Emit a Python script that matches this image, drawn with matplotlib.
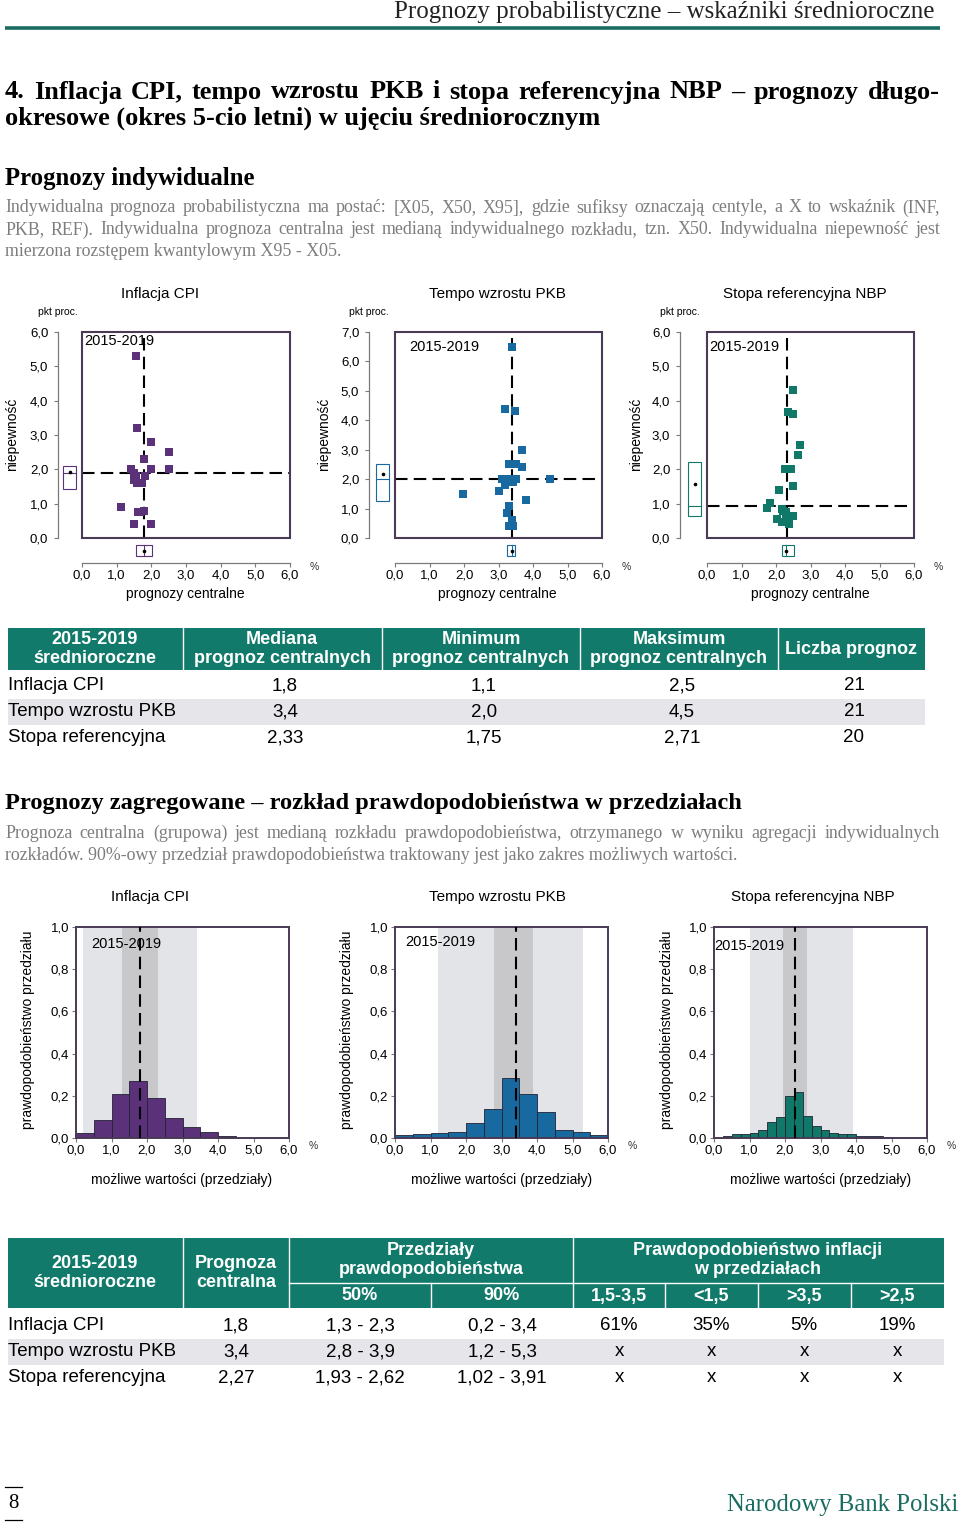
import matplotlib
matplotlib.use('Agg')
import matplotlib.pyplot as plt
from matplotlib.patches import Rectangle
from matplotlib.ticker import FuncFormatter
from matplotlib import font_manager

W, H = 960, 1522
SERIF = 'Liberation Serif'
SANS = 'Liberation Sans'
_names = {f.name for f in font_manager.fontManager.ttflist}
NARROW = 'Liberation Sans Narrow' if 'Liberation Sans Narrow' in _names else SANS

TEAL = '#117a6a'
TEAL_DARK = '#1b6c60'
FRAME = '#4a3a55'
AXIS = '#7a7a7a'
LIGHT = '#e3e4e8'
DARK = '#c8c8ca'
ROWGRAY = '#e6e6ea'
C_CPI = '#5b317a'
C_PKB = '#1769a0'
C_REF = '#107869'

# ---- prognozy indywidualne: (prognoza centralna, niepewność)
cpi_x = [1.56, 1.60, 2.00, 2.51, 1.80, 1.41, 2.00, 2.50, 1.50, 1.82, 1.50,
         1.60, 1.72, 1.12, 1.61, 1.80, 1.50, 2.00, 1.55, 1.66, 1.70]
cpi_y = [5.30, 3.21, 2.80, 2.50, 2.30, 2.00, 2.00, 2.00, 1.90, 1.80, 1.70,
         1.60, 1.60, 0.90, 0.75, 0.80, 0.40, 0.40, 1.80, 0.75, 1.60]
pkb_x = [3.39, 3.18, 3.49, 3.69, 3.29, 3.50, 3.69, 3.09, 3.31, 3.50, 3.41,
         3.20, 3.00, 4.48, 1.98, 3.80, 3.29, 3.24, 3.39, 3.29, 3.41]
pkb_y = [6.49, 4.40, 4.31, 3.00, 2.50, 2.50, 2.42, 2.00, 2.00, 2.00, 1.90,
         1.80, 1.61, 2.00, 1.51, 1.30, 1.09, 0.85, 0.62, 0.42, 0.42]
ref_x = [2.49, 2.34, 2.50, 2.70, 2.63, 2.25, 2.44, 2.49, 2.09, 1.83,
         1.74, 2.17, 2.28, 2.03, 2.17, 2.28, 2.48, 2.39, 2.35, 2.20]
ref_y = [4.31, 3.66, 3.61, 2.70, 2.41, 2.00, 2.00, 1.50, 1.40, 1.02,
         0.86, 0.84, 0.75, 0.55, 0.47, 0.55, 0.65, 0.40, 0.60, 0.80]
# mediany (linie przerywane)
cpi_med = (1.8, 1.9)
pkb_med = (3.4, 2.0)
ref_med = (2.33, 0.93)
# pudełka brzegowe: niepewność (dół, mediana, góra, punkt), centralne (dół, mediana, góra)
cpi_ubox = (1.43, 1.90, 2.10, 1.92)
pkb_ubox = (1.25, 2.00, 2.50, 2.17)
ref_ubox = (0.65, 0.93, 2.21, 1.58)
cpi_cbox = (1.56, 1.80, 2.02)
pkb_cbox = (3.24, 3.39, 3.48)
ref_cbox = (2.18, 2.30, 2.51)

# ---- prognozy zagregowane: lewe krawędzie przedziałów i prawdopodobieństwa
cpi_bins = [0.0, 0.5, 1.0, 1.5, 2.0, 2.5, 3.0, 3.5, 4.0, 4.5, 5.0, 5.5]
cpi_prob = [0.025, 0.084, 0.21, 0.27, 0.19, 0.096, 0.05, 0.03, 0.011, 0.002, 0.0, 0.0]
pkb_bins = [0.0, 0.5, 1.0, 1.5, 2.0, 2.5, 3.0, 3.5, 4.0, 4.5, 5.0, 5.5]
pkb_prob = [0.016, 0.019, 0.024, 0.028, 0.073, 0.136, 0.284, 0.207, 0.125, 0.040, 0.028, 0.016]
ref_bins = [0.25, 0.5, 0.75, 1.0, 1.25, 1.5, 1.75, 2.0, 2.25, 2.5, 2.75, 3.0,
            3.25, 3.5, 3.75, 4.0, 4.25, 4.5, 4.75]
ref_prob = [0.009, 0.02, 0.02, 0.025, 0.04, 0.076, 0.10, 0.20, 0.218, 0.106,
            0.058, 0.039, 0.026, 0.02, 0.017, 0.011, 0.009, 0.008, 0.006]
cpi_band = ((0.2, 3.4), (1.3, 2.3), 1.8)
pkb_band = ((1.2, 5.3), (2.8, 3.9), 3.4)
ref_band = ((1.02, 3.91), (1.93, 2.62), 2.27)

# ---- tabele
t1_header = ['2015-2019\nśrednioroczne', 'Mediana\nprognoz centralnych',
             'Minimum\nprognoz centralnych', 'Maksimum\nprognoz centralnych',
             'Liczba prognoz']
t1_rows = [['Inflacja CPI', '1,8', '1,1', '2,5', '21'],
           ['Tempo wzrostu PKB', '3,4', '2,0', '4,5', '21'],
           ['Stopa referencyjna', '2,33', '1,75', '2,71', '20']]
t2_sub = ['50%', '90%', '1,5-3,5', '<1,5', '>3,5', '>2,5']
t2_rows = [['Inflacja CPI', '1,8', '1,3 - 2,3', '0,2 - 3,4', '61%', '35%', '5%', '19%'],
           ['Tempo wzrostu PKB', '3,4', '2,8 - 3,9', '1,2 - 5,3', 'x', 'x', 'x', 'x'],
           ['Stopa referencyjna', '2,27', '1,93 - 2,62', '1,02 - 3,91', 'x', 'x', 'x', 'x']]

comma = FuncFormatter(lambda v, _: f'{v:.1f}'.replace('.', ','))

fig = plt.figure(figsize=(W / 100, H / 100), dpi=100)
bg = fig.add_axes([0, 0, 1, 1])
bg.set_xlim(0, W)
bg.set_ylim(H, 0)
bg.axis('off')
bg.set_zorder(-5)


def line(s, x0, y, size, x1=None, **kw):
    kw = dict(dict(family=SERIF, va='center', fontsize=size), **kw)
    if x1 is None:
        return bg.text(x0, y, s, **kw)
    # wyjustowana linia: słowa rozstawione od x0 do x1
    words = s.split(' ')
    ts = [bg.text(x0, y, w, **kw) for w in words]
    r = fig.canvas.get_renderer()
    ws = [t.get_window_extent(r).width for t in ts]
    gap = (x1 - x0 - sum(ws)) / (len(ws) - 1)
    x = x0
    for t, w in zip(ts, ws):
        t.set_x(x)
        x += w + gap


def add_ax(x0, y0, x1, y1):
    return fig.add_axes([x0 / W, 1 - y1 / H, (x1 - x0) / W, (y1 - y0) / H])


# ---- nagłówek strony
line('Prognozy probabilistyczne – wskaźniki średnioroczne', 935, 12, 18,
     ha='right', color='#222222')
bg.plot([5, 940], [28, 28], color=TEAL_DARK, lw=2.6, solid_capstyle='butt')
line('4. Inflacja CPI, tempo wzrostu PKB i stopa referencyjna NBP – prognozy długo-',
     5, 92, 19, x1=940, weight='bold')
line('okresowe (okres 5-cio letni) w ujęciu średniorocznym', 5, 118, 19, weight='bold')
line('Prognozy indywidualne', 5, 178, 17.8, weight='bold')
GRAYTXT = '#7d7d7d'
PSIZE = 12.9
line('Indywidualna prognoza probabilistyczna ma postać: [X05, X50, X95], gdzie sufiksy '
     'oznaczają centyle, a X to wskaźnik (INF,', 5, 208, PSIZE, x1=940, color=GRAYTXT)
line('PKB, REF). Indywidualna prognoza centralna jest medianą indywidualnego rozkładu, '
     'tzn. X50. Indywidualna niepewność jest', 5, 230, PSIZE, x1=940, color=GRAYTXT)
line('mierzona rozstępem kwantylowym X95 - X05.', 5, 252, PSIZE, color=GRAYTXT)


def scatter_panel(box, spine_px, xs, ys, ymax, color, med, ubox, cbox, tx, ty_lab):
    x0, y0, x1, y1 = box
    wpx, hpx = x1 - x0, y1 - y0
    ax = add_ax(*box)
    ax.set_xlim(0, 6)
    ax.set_ylim(0, ymax)
    ax.patch.set_alpha(0)
    ax.axvline(med[0], color='black', lw=1.5, dashes=(6, 3), zorder=2)
    ax.axhline(med[1], color='black', lw=1.5, dashes=(6, 3), zorder=2)
    ax.scatter(xs, ys, marker='s', s=36, color=color, lw=0, zorder=3)
    ax.add_patch(Rectangle((0, 0), 1, 1, transform=ax.transAxes, fill=False,
                           ec=FRAME, lw=1.5, clip_on=False, zorder=4))
    for s in ['top', 'right']:
        ax.spines[s].set_visible(False)
    ax.spines['left'].set_position(('outward', spine_px * 0.72))
    ax.spines['bottom'].set_position(('outward', 25 * 0.72))
    for s in ['left', 'bottom']:
        ax.spines[s].set_color(AXIS)
        ax.spines[s].set_linewidth(0.9)
    ax.set_xticks(range(0, 7))
    ax.set_yticks(range(0, ymax + 1))
    ax.xaxis.set_major_formatter(comma)
    ax.yaxis.set_major_formatter(comma)
    ax.tick_params(labelsize=9.5, length=3, color=AXIS, pad=2)
    ax.tick_params(axis='y', pad=4)
    for lab in ax.get_xticklabels() + ax.get_yticklabels():
        lab.set_family(SANS)
    # pudełko niepewności (lewa strona)
    tyx = ax.get_yaxis_transform()
    lo, md, hi, pt = ubox
    ax.add_patch(Rectangle((-19 / wpx, lo), 13 / wpx, hi - lo, transform=tyx, fill=False,
                           ec=color, lw=0.8, clip_on=False))
    ax.plot([-19 / wpx, -6 / wpx], [md, md], transform=tyx, color=color, lw=0.8, clip_on=False)
    ax.plot([-12.5 / wpx], [pt], marker='o', ms=1.6, color='black', transform=tyx, clip_on=False)
    # pudełko prognoz centralnych (dół)
    txx = ax.get_xaxis_transform()
    lo, md, hi = cbox
    ax.add_patch(Rectangle((lo, -18 / hpx), hi - lo, 11 / hpx, transform=txx, fill=False,
                           ec=color, lw=0.8, clip_on=False))
    ax.plot([md, md], [-18 / hpx, -7 / hpx], transform=txx, color=color, lw=0.8, clip_on=False)
    ax.plot([md], [-12.5 / hpx], marker='o', ms=1.6, color='black', transform=txx, clip_on=False)
    ax.text(tx, ty_lab, '2015-2019', transform=ax.transAxes, family=SANS, fontsize=10.5,
            ha='left', va='center')
    ax.text(1 + 20 / wpx, -29 / hpx, '%', transform=ax.transAxes, family=SANS, fontsize=7.5,
            ha='left', va='center', color='#333333')
    ax.text(-spine_px / wpx, 1 + 20 / hpx, 'pkt proc.', transform=ax.transAxes, family=SANS,
            fontsize=7.5, ha='center', va='center')
    return ax


scatter_panel((82, 332, 290, 538), 24, cpi_x, cpi_y, 6, C_CPI, cpi_med, cpi_ubox, cpi_cbox,
              0.01, 0.955)
scatter_panel((395, 332, 602, 538), 26, pkb_x, pkb_y, 7, C_PKB, pkb_med, pkb_ubox, pkb_cbox,
              0.07, 0.925)
scatter_panel((707, 332, 914, 538), 27, ref_x, ref_y, 6, C_REF, ref_med, ref_ubox, ref_cbox,
              0.01, 0.925)

for x, t in [(160, 'Inflacja CPI'), (497, 'Tempo wzrostu PKB'), (805, 'Stopa referencyjna NBP')]:
    line(t, x, 294, 11, ha='center', family=SANS)
for x in [185, 497, 810]:
    line('prognozy centralne', x, 594, 10, ha='center', family=SANS)
for x in [12, 324, 636]:
    line('niepewność', x, 434, 10, ha='center', family=SANS, rotation=90)

# ---- tabela 1
bg.add_patch(Rectangle((8, 628), 917, 42, color=TEAL, lw=0))
for x in [183, 382, 580, 778]:
    bg.plot([x, x], [628, 670], color='white', lw=1)
t1_cx = [95, 282, 481, 679, 851]
for cx, h in zip(t1_cx, t1_header):
    line(h, cx, 649, 13, ha='center', family=NARROW, weight='bold', color='white',
         linespacing=1.15)
bg.add_patch(Rectangle((8, 699), 917, 26, color=ROWGRAY, lw=0))
for i, row in enumerate(t1_rows):
    y = 686 + 26 * i
    line(row[0], 8, y, 13.5, family=SANS)
    for cx, v in zip(t1_cx[1:], row[1:]):
        line(v, cx + 3, y, 13.5, ha='center', family=SANS)

# ---- prognozy zagregowane
line('Prognozy zagregowane – rozkład prawdopodobieństwa w przedziałach', 5, 803, 17.6,
     weight='bold')
line('Prognoza centralna (grupowa) jest medianą rozkładu prawdopodobieństwa, otrzymanego '
     'w wyniku agregacji indywidualnych', 5, 833, PSIZE, x1=940, color=GRAYTXT)
line('rozkładów. 90%-owy przedział prawdopodobieństwa traktowany jest jako zakres '
     'możliwych wartości.', 5, 855, PSIZE, color=GRAYTXT)


def hist_panel(box, bins, probs, width, color, band, tx, ty):
    x0, y0, x1, y1 = box
    wpx, hpx = x1 - x0, y1 - y0
    ax = add_ax(*box)
    b90, b50, med = band
    ax.axvspan(*b90, color=LIGHT, lw=0, zorder=0)
    ax.axvspan(*b50, color=DARK, lw=0, zorder=0.5)
    ax.bar(bins, probs, width=width, align='edge', color=color, ec='#222233', lw=0.6, zorder=2)
    ax.axvline(med, color='black', lw=1.5, dashes=(6, 3), zorder=3)
    ax.set_xlim(0, 6)
    ax.set_ylim(0, 1)
    for s in ax.spines.values():
        s.set_color(FRAME)
        s.set_linewidth(1.4)
    ax.set_xticks(range(0, 7))
    ax.set_yticks([0, 0.2, 0.4, 0.6, 0.8, 1.0])
    ax.xaxis.set_major_formatter(comma)
    ax.yaxis.set_major_formatter(comma)
    ax.tick_params(labelsize=9.5, length=3, color=AXIS, pad=2)
    for lab in ax.get_xticklabels() + ax.get_yticklabels():
        lab.set_family(SANS)
    ax.text(tx, ty, '2015-2019', transform=ax.transAxes, family=SANS, fontsize=10.5,
            ha='left', va='center', zorder=5)
    ax.text(1 + 20 / wpx, -8 / hpx, '%', transform=ax.transAxes, family=SANS, fontsize=7.5,
            ha='left', va='center', color='#333333')
    return ax


hist_panel((76, 927, 289, 1138), cpi_bins, cpi_prob, 0.5, C_CPI, cpi_band, 0.07, 0.92)
hist_panel((395, 927, 608, 1138), pkb_bins, pkb_prob, 0.5, C_PKB, pkb_band, 0.05, 0.93)
hist_panel((714, 927, 927, 1138), ref_bins, ref_prob, 0.25, C_REF, ref_band, 0.0, 0.91)

for x, t in [(150, 'Inflacja CPI'), (497, 'Tempo wzrostu PKB'), (813, 'Stopa referencyjna NBP')]:
    line(t, x, 897, 11, ha='center', family=SANS)
for x in [182, 502, 821]:
    line('możliwe wartości (przedziały)', x, 1180, 10, ha='center', family=SANS)
for x in [28, 347, 667]:
    line('prawdopodobieństwo przedziału', x, 1030, 10, ha='center', family=SANS, rotation=90)

# ---- tabela 2
bg.add_patch(Rectangle((8, 1238), 936, 70, color=TEAL, lw=0))
for x in [183, 289, 573]:
    bg.plot([x, x], [1238, 1308], color='white', lw=1)
for x in [431, 665, 758, 851]:
    bg.plot([x, x], [1283, 1308], color='white', lw=1)
bg.plot([289, 944], [1283, 1283], color='white', lw=1)
hdr = dict(ha='center', family=NARROW, weight='bold', color='white', linespacing=1.15)
line('2015-2019\nśrednioroczne', 95, 1273, 13, **hdr)
line('Prognoza\ncentralna', 236, 1273, 13, **hdr)
line('Przedziały\nprawdopodobieństwa', 431, 1260, 13, **hdr)
line('Prawdopodobieństwo inflacji\nw przedziałach', 758, 1260, 13, **hdr)
t2_cx = [236, 360, 502, 619, 711, 804, 897]
for cx, s in zip(t2_cx[1:], t2_sub):
    line(s, cx, 1296, 13, **hdr)
bg.add_patch(Rectangle((8, 1339), 936, 26, color=ROWGRAY, lw=0))
for i, row in enumerate(t2_rows):
    y = 1326 + 26 * i
    line(row[0], 8, y, 13.5, family=SANS)
    for cx, v in zip(t2_cx, row[1:]):
        line(v, cx, y, 13.5, ha='center', family=SANS)

# ---- stopka
bg.plot([5, 22], [1487, 1487], color='black', lw=0.9)
bg.plot([5, 22], [1520, 1520], color='black', lw=0.9)
line('8', 13, 1503, 15, ha='center')
line('Narodowy Bank Polski', 958, 1505, 17.8, ha='right', color=TEAL_DARK)

fig.savefig('out.png', dpi=100)
